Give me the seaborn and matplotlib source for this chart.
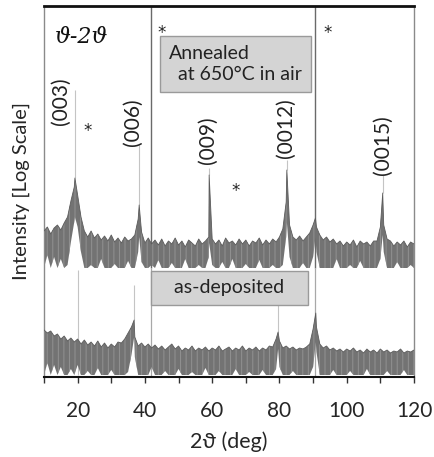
import numpy as np
import pandas as pd
import seaborn as sns
import matplotlib.pyplot as plt

# 2-theta grid (deg) for the background band
two_theta = list(range(10, 121))

# annealed at 650C in air: upper / lower edge of the noisy band (arb. units, log scale)
annealed_hi = [146, 150, 143, 149, 152, 147, 154, 160, 176, 190,
               182, 160, 146, 140, 146, 139, 143, 137, 141, 136,
               142, 135, 139, 134, 140, 136, 138, 142, 158, 145,
               134, 139, 133, 137, 132, 138, 131, 136, 133, 139,
               132, 136, 130, 137, 134, 131, 138, 133, 136, 140,
               138, 133, 137, 131, 139, 134, 136, 132, 138, 133,
               137, 131, 136, 134, 139, 132, 137, 133, 138, 135,
               140, 148, 175, 152, 140, 137, 141, 136, 140, 144,
               152, 150, 142, 137, 140, 135, 138, 133, 136, 131,
               135, 132, 137, 130, 136, 133, 135, 131, 136, 136,
               150, 152, 138, 136, 131, 135, 132, 136, 130, 135,
               133]
annealed_lo = [109, 122, 109, 120, 109, 118, 109, 112, 135, 155,
               150, 125, 109, 109, 112, 109, 109, 118, 109, 109,
               109, 113, 109, 109, 109, 116, 109, 109, 125, 115,
               109, 109, 112, 109, 117, 109, 109, 109, 114, 109,
               109, 109, 118, 109, 109, 109, 112, 109, 109, 120,
               112, 109, 109, 115, 109, 109, 118, 109, 109, 109,
               113, 109, 109, 109, 117, 109, 109, 109, 112, 109,
               109, 112, 140, 120, 109, 109, 109, 114, 109, 109,
               120, 125, 109, 109, 109, 109, 109, 118, 109, 109,
               109, 112, 109, 109, 116, 109, 109, 109, 109, 109,
               118, 125, 109, 109, 109, 115, 109, 109, 109, 112,
               109]
annealed_peak_x = [19.2, 38.3, 59.1, 82.2, 90.7, 110.7]
annealed_peak_hi = [199, 172, 202, 207, 159, 184]
annealed_peak_lo = [160, 140, 134, 155, 140, 142]
annealed_spike_x = [19.2, 38.3, 59.1, 82.2, 110.7]
annealed_spike_lo = [199, 172, 202, 207, 184]
annealed_spike_hi = [287, 232, 209, 217, 202]

# as-deposited
deposited_hi = [47, 44, 46, 41, 43, 38, 41, 36, 39, 35,
                38, 33, 37, 32, 35, 31, 36, 30, 34, 29,
                33, 30, 35, 34, 38, 44, 50, 40, 31, 34,
                30, 33, 29, 32, 28, 31, 27, 30, 33, 28,
                31, 26, 29, 27, 31, 26, 29, 27, 30, 26,
                29, 27, 31, 26, 28, 30, 26, 29, 27, 31,
                26, 29, 27, 30, 26, 29, 27, 31, 30, 38,
                36, 29, 31, 28, 30, 27, 29, 28, 30, 33,
                48, 50, 33, 29, 31, 27, 29, 26, 28, 25,
                28, 26, 29, 25, 27, 24, 28, 25, 27, 24,
                28, 25, 27, 24, 26, 25, 28, 24, 26, 25,
                27]
deposited_lo = [2, 14, 2, 12, 2, 10, 2, 2, 8, 2,
                12, 2, 2, 6, 2, 2, 9, 2, 2, 2,
                7, 2, 2, 2, 2, 5, 22, 20, 2, 2,
                2, 2, 10, 2, 2, 2, 6, 2, 2, 2,
                8, 2, 2, 2, 5, 2, 2, 2, 9, 2,
                2, 2, 6, 2, 2, 2, 2, 8, 2, 2,
                2, 5, 2, 2, 2, 7, 2, 2, 2, 8,
                10, 2, 2, 2, 6, 2, 2, 2, 2, 2,
                10, 25, 2, 2, 2, 2, 7, 2, 2, 2,
                2, 6, 2, 2, 2, 2, 8, 2, 2, 2,
                2, 2, 6, 2, 2, 2, 2, 7, 2, 2,
                2]
deposited_peak_x = [36.8, 79.6, 90.8]
deposited_peak_hi = [57, 45, 64]
deposited_peak_lo = [40, 28, 35]
deposited_spike_x = [20.0, 36.8, 79.6]
deposited_spike_lo = [2, 57, 45]
deposited_spike_hi = [107, 92, 80]

# substrate reflections (off scale)
substrate_x = [41.8, 90.7]

peak_labels = ["(003)", "(006)", "(009)", "(0012)", "(0015)"]
label_x = [15.1, 36.5, 58.8, 82.0, 110.6]
label_y = [276, 255, 237, 249, 232]

star_x = [45.1, 94.2, 23.1, 67.1]
star_y = [344, 344, 246, 186]


def trace(hi, lo, px, phi, plo):
    df = pd.DataFrame({"x": two_theta + px, "hi": hi + phi, "lo": lo + plo})
    return df.sort_values("x").reset_index(drop=True)


sns.set_style("ticks")
plt.rcParams['font.family'] = ['Lato', 'DejaVu Sans']
plt.rcParams['hatch.linewidth'] = 0.7

fig = plt.figure(figsize=(4.34, 4.57), dpi=100)
ax = fig.add_axes([44 / 434, 80 / 457, 370 / 434, 371 / 457])

ax.vlines(substrate_x, 109, 371, color='#6a6a6a', lw=1.0, zorder=1)
ax.vlines(substrate_x, 0, 109, color='#a8a8a8', lw=0.9, zorder=1)

ax.vlines(annealed_spike_x, annealed_spike_lo, annealed_spike_hi, color='#c4c4c4', lw=0.8, zorder=1)
ax.vlines(deposited_spike_x, deposited_spike_lo, deposited_spike_hi, color='#c4c4c4', lw=0.8, zorder=1)

for d in [trace(annealed_hi, annealed_lo, annealed_peak_x, annealed_peak_hi, annealed_peak_lo),
          trace(deposited_hi, deposited_lo, deposited_peak_x, deposited_peak_hi, deposited_peak_lo)]:
    ax.fill_between(d["x"], d["lo"], d["hi"], facecolor='#737373', edgecolor='#929292',
                    hatch='|||', lw=0, zorder=2)
    sns.lineplot(data=d, x="x", y="hi", ax=ax, color='#5c5c5c', lw=0.6,
                 estimator=None, sort=False, zorder=3)

for t, lx, ly in zip(peak_labels, label_x, label_y):
    ax.text(lx, ly, t, rotation=90, ha='center', va='center', fontsize=15, color='#222222')

for sx, sy in zip(star_x, star_y):
    ax.text(sx, sy, "*", ha='center', va='center', fontsize=12,
            family=['DejaVu Sans'], color='#222222')

ax.text(13.3, 340, "ϑ-2ϑ", ha='left', va='center', fontsize=16,
        family=['DejaVu Serif'], style='italic', color='#111111')

box = dict(boxstyle='square,pad=0.45', fc='#d4d4d4', ec='#9a9a9a', lw=1)
ax.text(47.0, 313, "Annealed\n  at 650°C in air", ha='left', va='center',
        fontsize=14, color='#222222', linespacing=1.3, bbox=box, zorder=5)
ax.text(65.1, 89, "   as-deposited   ", ha='center', va='center',
        fontsize=14, color='#222222', bbox=box, zorder=5)

ax.set_xlim(10, 120)
ax.set_ylim(0, 371)
ax.set_xticks(range(10, 121, 10))
ax.set_xticklabels([str(v) if v % 20 == 0 else "" for v in range(10, 121, 10)], fontsize=15)
ax.set_yticks([])
ax.tick_params(axis='x', direction='out', length=4, width=1, color='#333333', pad=13)
ax.set_xlabel("2ϑ (deg)", fontsize=15.5, labelpad=8)
ax.set_ylabel("Intensity [Log Scale]", fontsize=14.5, labelpad=10)

for s in ['left', 'right']:
    ax.spines[s].set_color('#8a8a8a')
    ax.spines[s].set_linewidth(1.0)
ax.spines['top'].set_color('#111111')
ax.spines['top'].set_linewidth(2.0)
ax.spines['bottom'].set_color('#111111')
ax.spines['bottom'].set_linewidth(1.5)

fig.savefig("out.png", dpi=100)
